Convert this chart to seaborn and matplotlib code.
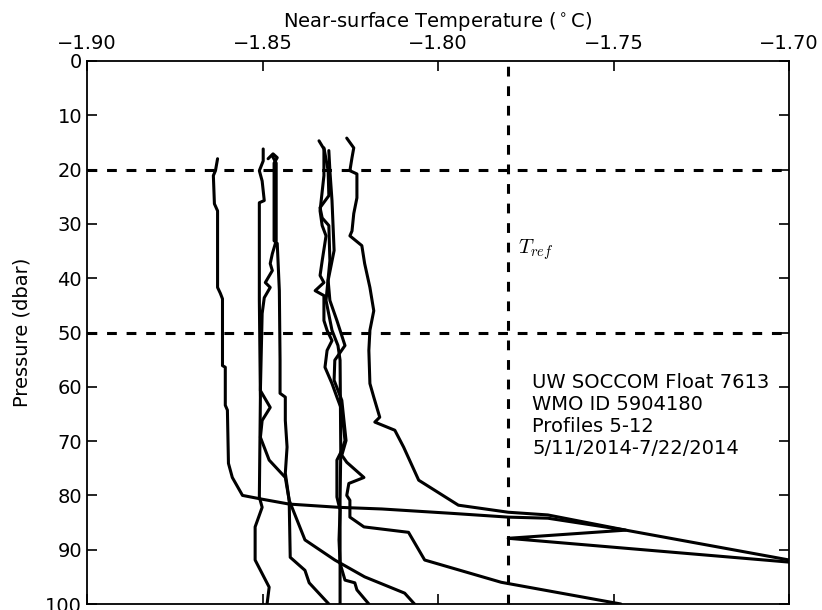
import matplotlib
matplotlib.use("Agg")
import matplotlib.pyplot as plt
import seaborn as sns
import numpy as np
import pandas as pd
import matplotlib.ticker as ticker

# Profiles 5-12, temperature (degC) vs pressure (dbar)
temp_p5 = [-1.8628, -1.8634, -1.8640, -1.8637, -1.8628, -1.8628, -1.8620, -1.8614, -1.8614,
           -1.8606, -1.8606, -1.8600, -1.8597, -1.8586, -1.8557, -1.8501, -1.8424, -1.8282,
           -1.8160, -1.7962, -1.7800, -1.7687, -1.7465, -1.7800, -1.6906]
pres_p5 = [18.0, 20.2, 21.1, 26.3, 27.6, 41.7, 42.8, 43.8, 56.1,
           56.4, 63.4, 64.3, 74.1, 76.7, 80.0, 80.7, 81.6, 82.2,
           82.5, 83.3, 84.0, 84.2, 86.4, 87.9, 92.8]

temp_p6 = [-1.8498, -1.8498, -1.8509, -1.8501, -1.8495, -1.8509, -1.8509, -1.8506,
           -1.8509, -1.8501, -1.8521, -1.8521, -1.8481, -1.8487]
pres_p6 = [16.2, 18.4, 20.2, 22.1, 25.7, 26.1, 44.0, 62.0,
           80.3, 82.2, 85.8, 91.9, 96.9, 100.0]

temp_p7 = [-1.8484, -1.8470, -1.8458, -1.8467, -1.8467, -1.8458, -1.8452, -1.8450, -1.8450,
           -1.8435, -1.8435, -1.8430, -1.8435, -1.8424, -1.8421, -1.8379, -1.8367, -1.8311]
pres_p7 = [18.0, 17.1, 17.8, 18.8, 33.1, 33.6, 42.3, 55.1, 61.2,
           61.9, 66.2, 71.1, 75.9, 80.9, 91.4, 93.8, 96.1, 100.0]

temp_p8 = [-1.8472, -1.8461, -1.8461, -1.8472, -1.8478, -1.8472, -1.8492, -1.8478, -1.8495,
           -1.8501, -1.8506, -1.8478, -1.8501, -1.8506, -1.8481, -1.8435, -1.8424, -1.8379,
           -1.8294, -1.8209, -1.8095, -1.8067]
pres_p8 = [17.5, 18.8, 33.1, 35.5, 37.3, 38.6, 40.8, 41.7, 43.6,
           46.5, 60.7, 63.8, 66.2, 69.3, 73.5, 76.7, 80.9, 88.2,
           91.9, 95.0, 98.0, 100.0]

temp_p9 = [-1.8339, -1.8325, -1.8325, -1.8336, -1.8330, -1.8319, -1.8330, -1.8336, -1.8325,
           -1.8350, -1.8325, -1.8325, -1.8316, -1.8302, -1.8316, -1.8322, -1.8302, -1.8288,
           -1.8274, -1.8265, -1.8274, -1.8288, -1.8288, -1.8279, -1.8282, -1.8279, -1.8265,
           -1.8237, -1.8231, -1.8197]
pres_p9 = [14.7, 16.2, 21.1, 27.6, 30.3, 32.2, 36.8, 39.5, 40.8,
           42.3, 43.2, 47.8, 49.6, 51.5, 53.3, 56.4, 59.4, 61.9,
           64.3, 69.9, 71.7, 73.5, 80.3, 82.7, 88.2, 92.5, 95.6,
           96.1, 97.4, 100.0]

temp_p10 = [-1.8325, -1.8313, -1.8311, -1.8336, -1.8330, -1.8311, -1.8308, -1.8319, -1.8302,
            -1.8285, -1.8279, -1.8277, -1.8279, -1.8279]
pres_p10 = [16.0, 20.2, 24.8, 27.0, 28.9, 30.3, 36.8, 44.1, 49.6,
            52.4, 55.1, 71.7, 80.9, 100.0]

temp_p11 = [-1.8311, -1.8308, -1.8302, -1.8296, -1.8313, -1.8308, -1.8288, -1.8274, -1.8265,
            -1.8294, -1.8296, -1.8274, -1.8268, -1.8262, -1.8274, -1.8260, -1.8211, -1.8254,
            -1.8260, -1.8251, -1.8251, -1.8211, -1.8084, -1.8038, -1.7820, -1.7479]
pres_p11 = [16.5, 20.2, 25.7, 34.9, 40.4, 44.1, 47.8, 50.6, 52.4,
            55.1, 58.8, 62.5, 66.2, 69.9, 72.6, 73.9, 76.7, 77.8,
            80.0, 80.9, 84.0, 85.8, 86.8, 91.9, 96.0, 100.0]

temp_p12 = [-1.8260, -1.8240, -1.8245, -1.8251, -1.8231, -1.8231, -1.8240, -1.8245, -1.8251,
            -1.8217, -1.8209, -1.8194, -1.8183, -1.8194, -1.8197, -1.8194, -1.8183, -1.8166,
            -1.8180, -1.8123, -1.8098, -1.8055, -1.7942, -1.7800, -1.7687, -1.7465, -1.6906]
pres_p12 = [14.2, 16.0, 17.8, 20.2, 20.8, 25.2, 28.1, 31.3, 32.2,
            34.0, 37.3, 41.7, 46.0, 49.6, 53.3, 59.4, 61.9, 65.6,
            66.5, 68.0, 71.1, 77.2, 81.8, 83.1, 83.6, 86.4, 93.0]

t_ref = -1.78
layer_top = 20
layer_bottom = 50
info_lines = ["UW SOCCOM Float 7613", "WMO ID 5904180", "Profiles 5-12", "5/11/2014-7/22/2014"]

# Long table for seaborn
profiles = {5: (temp_p5, pres_p5), 6: (temp_p6, pres_p6), 7: (temp_p7, pres_p7),
            8: (temp_p8, pres_p8), 9: (temp_p9, pres_p9), 10: (temp_p10, pres_p10),
            11: (temp_p11, pres_p11), 12: (temp_p12, pres_p12)}
frames = []
for num, (t, p) in profiles.items():
    frames.append(pd.DataFrame({"temp": t, "pres": p, "profile": num}))
df = pd.concat(frames, ignore_index=True)

sns.set_style("ticks", {"xtick.direction": "in", "ytick.direction": "in"})
plt.rcParams['font.family'] = ['DejaVu Sans']
plt.rcParams['text.color'] = 'black'
plt.rcParams['axes.labelcolor'] = 'black'
plt.rcParams['xtick.color'] = 'black'
plt.rcParams['ytick.color'] = 'black'

fig = plt.figure(figsize=(8.22, 6.10), dpi=100)
ax = fig.add_axes([87 / 822, 6 / 610, 702 / 822, 543 / 610])

sns.lineplot(data=df, x="temp", y="pres", units="profile", estimator=None, sort=False,
             color="black", linewidth=2.2, ax=ax)

dash = (3.2, 3.2)
ax.axhline(layer_top, color="black", lw=2.2, dashes=dash)
ax.axhline(layer_bottom, color="black", lw=2.2, dashes=dash)
ax.axvline(t_ref, color="black", lw=2.2, dashes=dash)

ax.text(-1.7772, 34.8, r"$T_{ref}$", fontsize=15, va="center", ha="left", math_fontfamily="cm")
ax.text(-1.7732, 57.4, "\n".join(info_lines), fontsize=14, va="top", ha="left")

ax.set_xlim(-1.90, -1.70)
ax.set_ylim(100, 0)
ax.xaxis.set_major_locator(ticker.MultipleLocator(0.05))
ax.xaxis.set_major_formatter(ticker.FuncFormatter(lambda v, pos: f"{v:.2f}".replace("-", "\u2212")))
ax.yaxis.set_major_locator(ticker.MultipleLocator(10))
ax.xaxis.tick_top()
ax.xaxis.set_label_position("top")
ax.tick_params(axis="both", which="major", labelsize=14, length=7, width=1.2,
               top=True, bottom=True, left=True, right=True, labelbottom=False, labeltop=True)
ax.tick_params(axis="x", pad=6)
for s in ax.spines.values():
    s.set_visible(True)
    s.set_linewidth(1.3)
    s.set_color("black")

ax.set_xlabel("Near-surface Temperature ($^\\circ$C)", fontsize=14, labelpad=5)
ax.set_ylabel("Pressure (dbar)", fontsize=14, labelpad=10)

fig.savefig("out.png", dpi=100)
